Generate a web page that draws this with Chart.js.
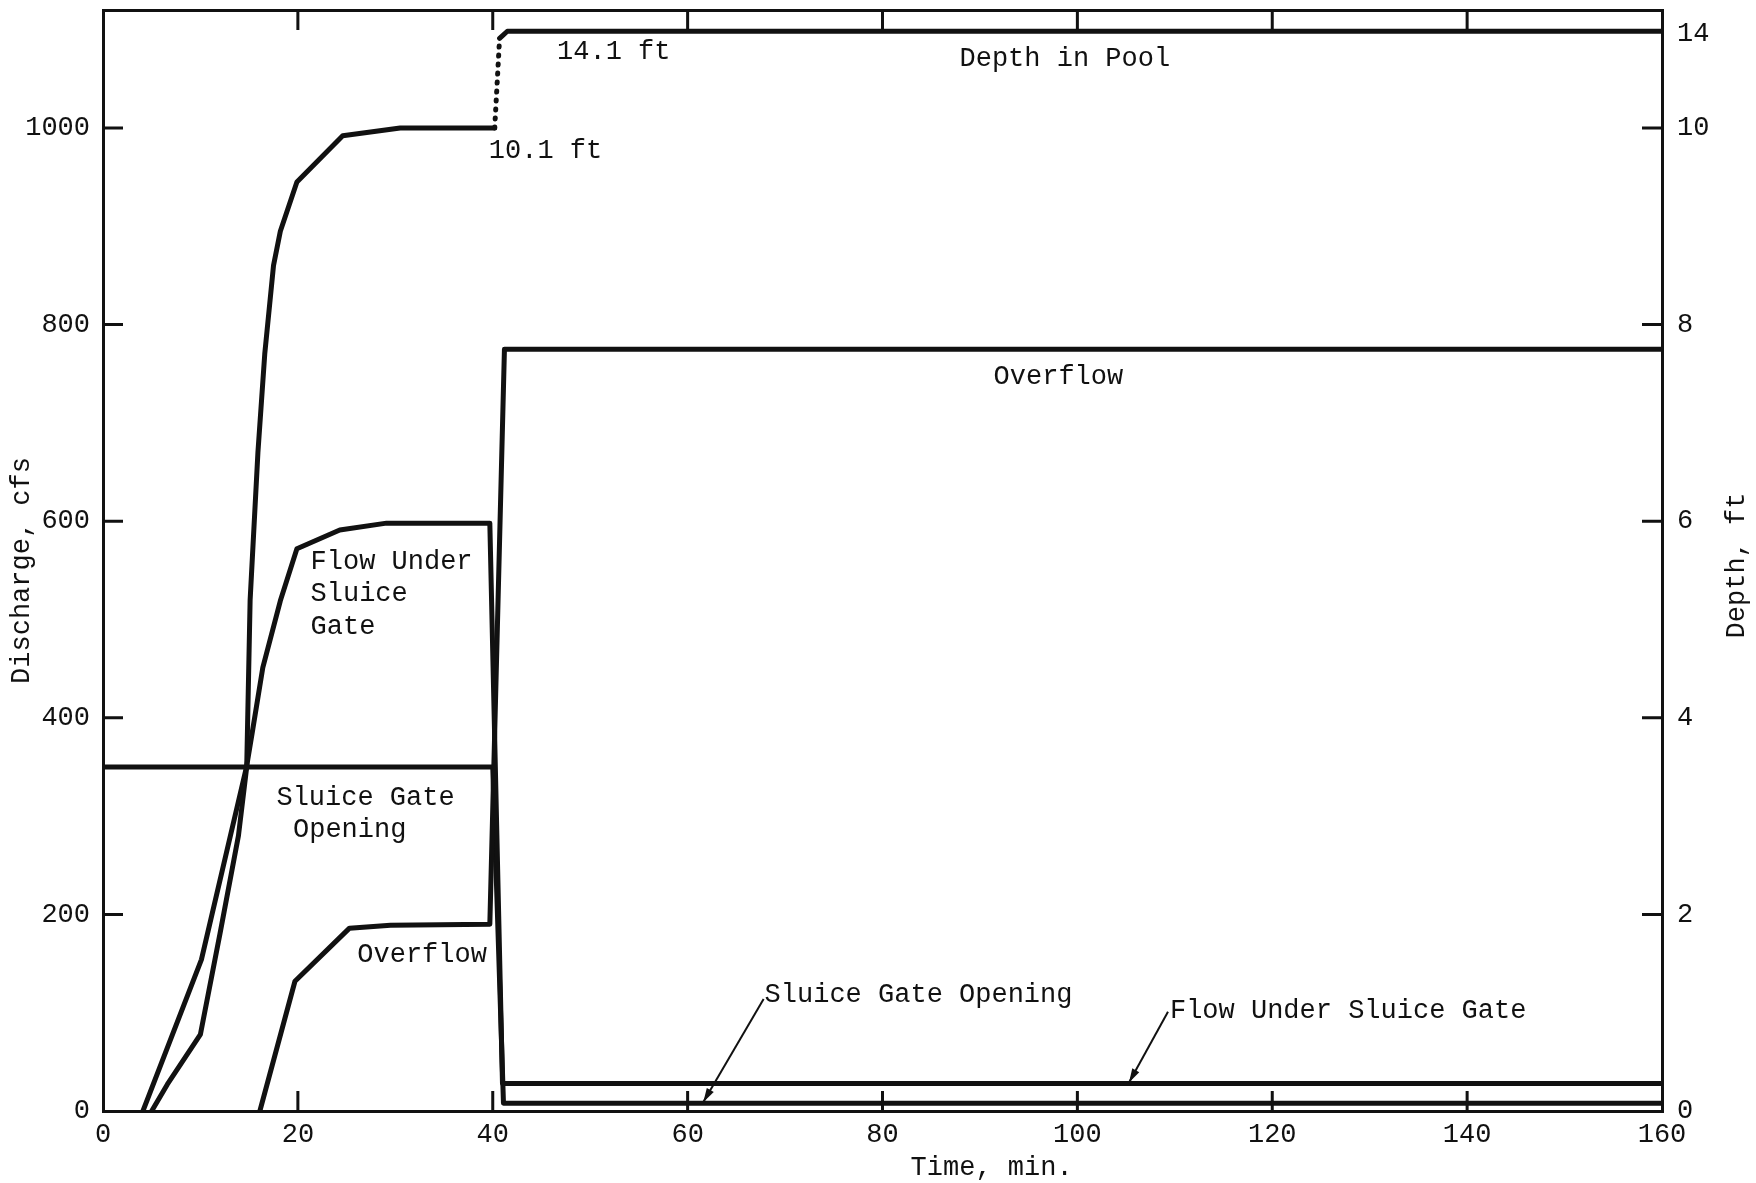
<!DOCTYPE html>
<html>
<head>
<meta charset="utf-8">
<title>Discharge and depth vs time</title>
<script src="https://cdn.jsdelivr.net/npm/chart.js@4.4.0/dist/chart.umd.min.js"></script>
<style>
  html, body { margin: 0; padding: 0; background: #fff; }
  #wrap { width: 1756px; height: 1183px; position: relative; }
</style>
</head>
<body>
<div id="wrap"><canvas id="chart"></canvas></div>
<script>
// tick labels
const timeTicks = [0, 20, 40, 60, 80, 100, 120, 140, 160];
const dischargeTicks = [0, 200, 400, 600, 800, 1000];
const depthTicks = [0, 2, 4, 6, 8, 10, 14];

// Depth in Pool, ft (right axis)
const depthTime = [5.0, 6.6, 10.0, 12.0, 13.9, 14.75, 15.1, 15.9, 16.6, 17.5, 18.2, 19.9, 24.6, 30.5, 40.2, 40.7, 41.5, 160];
const depthPool = [0, 0.27, 0.78, 1.8, 2.8, 3.5, 5.2, 6.7, 7.7, 8.6, 8.95, 9.45, 9.92, 10.0, 10.0, 13.8, 14.1, 14.1];

// Flow Under Sluice Gate, cfs (left axis)
const flowTime = [4.1, 10.1, 14.75, 15.3, 16.4, 18.2, 19.9, 24.3, 29.1, 39.7, 41.0, 160];
const flowUnderGate = [0, 154, 351, 384, 451, 519, 572, 591, 598, 598, 28, 28];

// Overflow, cfs (left axis)
const overflowTime = [16.1, 19.7, 25.3, 29.5, 39.7, 41.2, 160];
const overflow = [0, 132, 186, 189, 190, 775, 775];

// Sluice Gate Opening, ft (right axis)
const gateTime = [0, 40.0, 41.1, 160];
const gateOpening = [3.5, 3.5, 0.08, 0.08];

const INK = '#111';
const FONT = "'Liberation Mono', 'Courier New', monospace";
const FONT_SIZE = 27;
const TICK = 20;

// text labels inside the plot, in data units (min, cfs)
const notes = [
  { text: '14.1 ft', x: 46.6, y: 1077 },
  { text: 'Depth in Pool', x: 87.9, y: 1070 },
  { text: '10.1 ft', x: 39.6, y: 977 },
  { text: 'Overflow', x: 91.4, y: 747 },
  { text: 'Flow Under', x: 21.3, y: 559 },
  { text: 'Sluice', x: 21.3, y: 526 },
  { text: 'Gate', x: 21.3, y: 493 },
  { text: 'Sluice Gate', x: 17.8, y: 319 },
  { text: 'Opening', x: 19.5, y: 286 },
  { text: 'Overflow', x: 26.1, y: 159 },
  { text: 'Sluice Gate Opening', x: 67.9, y: 118 },
  { text: 'Flow Under Sluice Gate', x: 109.5, y: 102 }
];
const leaders = [
  { from: [67.8, 114], to: [61.6, 9] },
  { from: [109.3, 101], to: [105.3, 29] }
];

// depth axis is broken above 10 ft, 14 ft sits just over the 10 ft mark
const BREAK = 0.24;
function squeeze(v) { return v <= 10 ? v : 10 + (v - 10) * BREAK; }
function unsqueeze(v) { return v <= 10 ? v : 10 + (v - 10) / BREAK; }

class BrokenScale extends Chart.LinearScale {
  getPixelForValue(value) {
    const lo = squeeze(this.min), hi = squeeze(this.max);
    return this.getPixelForDecimal((squeeze(value) - lo) / (hi - lo));
  }
  getValueForPixel(pixel) {
    const lo = squeeze(this.min), hi = squeeze(this.max);
    return unsqueeze(lo + this.getDecimalForPixel(pixel) * (hi - lo));
  }
}
BrokenScale.id = 'broken';
BrokenScale.defaults = Chart.LinearScale.defaults;
Chart.register(BrokenScale);

const pts = (xs, ys) => xs.map((x, i) => ({ x: x, y: ys[i] }));

function line(label, data, axis, extra) {
  return Object.assign({
    label: label,
    data: data,
    yAxisID: axis,
    showLine: true,
    borderColor: INK,
    borderWidth: 5,
    pointRadius: 0,
    fill: false,
    tension: 0,
    borderJoinStyle: 'round',
    borderCapStyle: 'round'
  }, extra || {});
}

const tickFont = { family: FONT, size: FONT_SIZE };
const setTicks = list => scale => { scale.ticks = list.map(v => ({ value: v })); };
const noPad = size => scale => {
  if (scale.isHorizontal()) scale.height = size; else scale.width = size;
  scale.paddingTop = 0; scale.paddingBottom = 0;
  scale.paddingLeft = 0; scale.paddingRight = 0;
};
const border = { display: true, width: 3, color: INK };
const noGrid = { display: false, drawTicks: false, lineWidth: 3 };

// inner ticks, axis titles, labels and leader arrows
const frameMarks = {
  id: 'frameMarks',
  afterDraw(chart) {
    const { ctx, chartArea: a, scales } = chart;
    ctx.save();
    ctx.strokeStyle = INK;
    ctx.fillStyle = INK;
    ctx.lineWidth = 3;
    ctx.beginPath();
    scales.x.ticks.forEach(t => {
      const px = scales.x.getPixelForValue(t.value);
      if (px <= a.left + 2 || px >= a.right - 2) return;
      ctx.moveTo(px, a.bottom); ctx.lineTo(px, a.bottom - TICK);
      ctx.moveTo(px, a.top); ctx.lineTo(px, a.top + TICK);
    });
    scales.y.ticks.forEach(t => {
      const py = scales.y.getPixelForValue(t.value);
      if (py >= a.bottom - 2) return;
      ctx.moveTo(a.left, py); ctx.lineTo(a.left + TICK, py);
    });
    scales.yDepth.ticks.forEach(t => {
      const py = scales.yDepth.getPixelForValue(t.value);
      if (py >= a.bottom - 2 || t.value > 10) return;
      ctx.moveTo(a.right, py); ctx.lineTo(a.right - TICK, py);
    });
    ctx.stroke();

    ctx.font = FONT_SIZE + 'px ' + FONT;
    ctx.textBaseline = 'middle';

    // axis titles
    ctx.textAlign = 'center';
    ctx.fillText('Time, min.', a.left + (a.right - a.left) * 0.57, chart.height - 15);
    ctx.save();
    ctx.translate(22, (a.top + a.bottom) / 2 + 10);
    ctx.rotate(-Math.PI / 2);
    ctx.fillText('Discharge, cfs', 0, 0);
    ctx.restore();
    ctx.save();
    ctx.translate(chart.width - 19, (a.top + a.bottom) / 2 + 5);
    ctx.rotate(-Math.PI / 2);
    ctx.fillText('Depth, ft', 0, 0);
    ctx.restore();

    // labels
    ctx.textAlign = 'left';
    notes.forEach(n => {
      ctx.fillText(n.text, scales.x.getPixelForValue(n.x), scales.y.getPixelForValue(n.y));
    });

    // leader lines with arrow heads
    ctx.lineWidth = 2;
    leaders.forEach(l => {
      const x0 = scales.x.getPixelForValue(l.from[0]), y0 = scales.y.getPixelForValue(l.from[1]);
      const x1 = scales.x.getPixelForValue(l.to[0]), y1 = scales.y.getPixelForValue(l.to[1]);
      const ang = Math.atan2(y1 - y0, x1 - x0);
      ctx.beginPath();
      ctx.moveTo(x0, y0); ctx.lineTo(x1, y1);
      ctx.stroke();
      ctx.beginPath();
      ctx.moveTo(x1, y1);
      ctx.lineTo(x1 - 14 * Math.cos(ang) + 4 * Math.sin(ang), y1 - 14 * Math.sin(ang) - 4 * Math.cos(ang));
      ctx.lineTo(x1 - 14 * Math.cos(ang) - 4 * Math.sin(ang), y1 - 14 * Math.sin(ang) + 4 * Math.cos(ang));
      ctx.closePath();
      ctx.fill();
    });
    ctx.restore();
  }
};

const ctx = document.getElementById('chart').getContext('2d');
new Chart(ctx, {
  type: 'scatter',
  data: {
    datasets: [
      line('Depth in Pool', pts(depthTime, depthPool), 'yDepth', {
        segment: {
          // jump from 10.1 ft up toward 14.1 ft is dotted
          borderDash: c => (c.p1.parsed.y - c.p0.parsed.y > 3 ? [1, 8] : undefined)
        }
      }),
      line('Flow Under Sluice Gate', pts(flowTime, flowUnderGate), 'y'),
      line('Overflow', pts(overflowTime, overflow), 'y'),
      line('Sluice Gate Opening', pts(gateTime, gateOpening), 'yDepth')
    ]
  },
  options: {
    responsive: true,
    maintainAspectRatio: false,
    animation: false,
    devicePixelRatio: 1,
    layout: { padding: { top: 10, left: 0, right: 0, bottom: 0 } },
    plugins: {
      legend: { display: false },
      tooltip: { enabled: false }
    },
    scales: {
      x: {
        type: 'linear', position: 'bottom', min: 0, max: 160,
        afterBuildTicks: setTicks(timeTicks),
        afterFit: noPad(72),
        ticks: { font: tickFont, color: INK, padding: 8, maxRotation: 0, autoSkip: false, callback: v => String(v) },
        grid: noGrid, border: border
      },
      xTop: {
        type: 'linear', position: 'top', min: 0, max: 160,
        afterFit: noPad(0),
        ticks: { display: false },
        grid: noGrid, border: border
      },
      y: {
        type: 'linear', position: 'left', min: 0, max: 1120,
        afterBuildTicks: setTicks(dischargeTicks),
        afterFit: noPad(103),
        ticks: { font: tickFont, color: INK, padding: 13, autoSkip: false, callback: v => String(v) },
        grid: noGrid, border: border
      },
      yDepth: {
        type: 'broken', position: 'right', min: 0, max: 15,
        afterBuildTicks: setTicks(depthTicks),
        afterFit: noPad(94),
        ticks: { font: tickFont, color: INK, padding: 15, autoSkip: false, callback: v => String(v) },
        grid: noGrid, border: border
      }
    }
  },
  plugins: [frameMarks]
});
</script>
</body>
</html>
